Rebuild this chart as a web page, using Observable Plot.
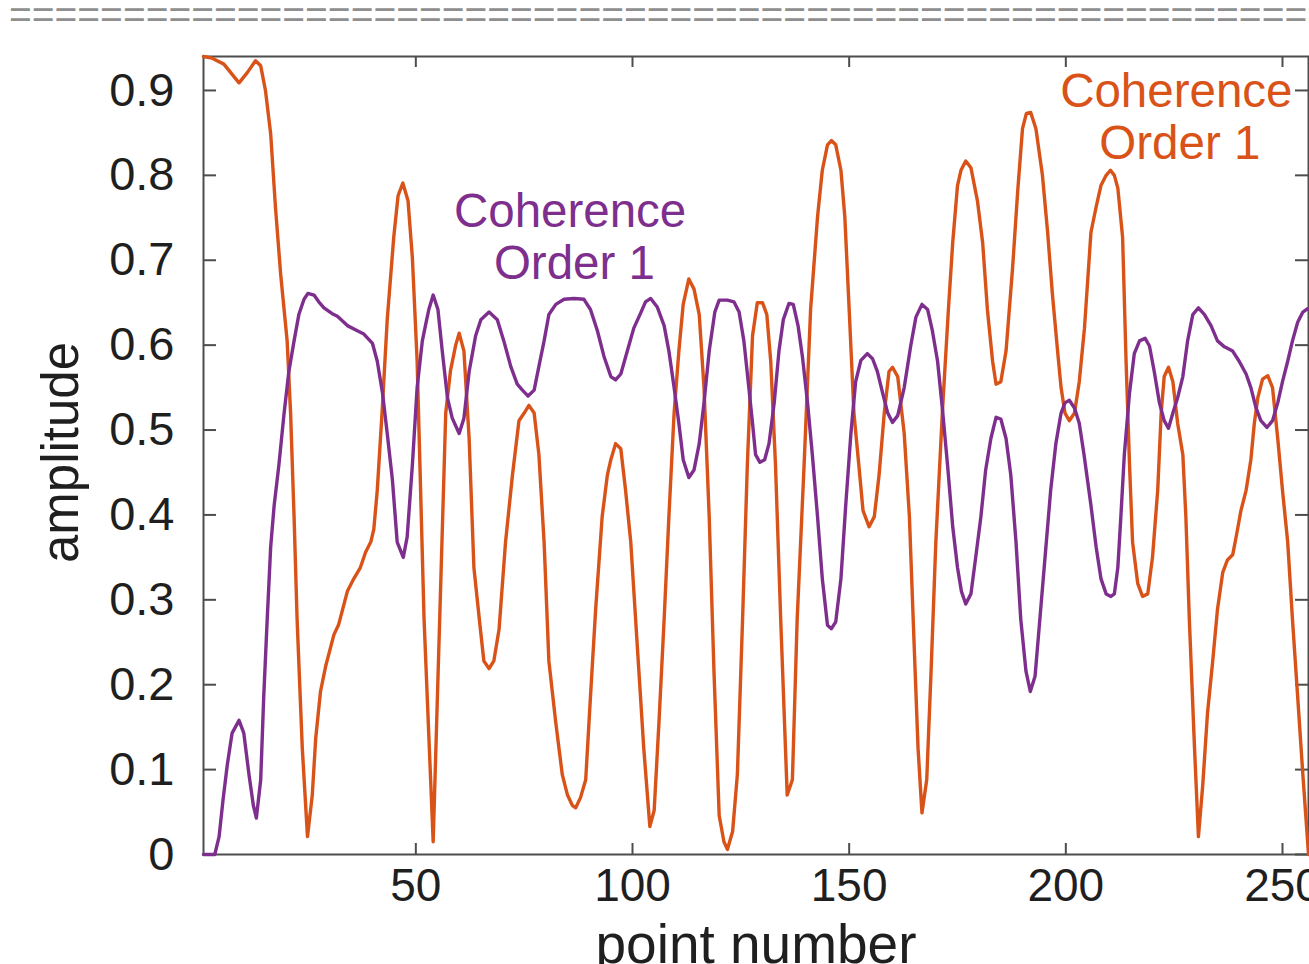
<!DOCTYPE html>
<html>
<head>
<meta charset="utf-8">
<script src="https://cdn.jsdelivr.net/npm/d3@7"></script>
<script src="https://cdn.jsdelivr.net/npm/@observablehq/plot@0.6"></script>
<style>
  html, body { margin: 0; padding: 0; background: #fff; overflow: hidden; }
  #wrap { position: relative; width: 1309px; height: 964px; }
  #rule { position: absolute; left: 9px; top: -5px; width: 1300px; overflow: hidden; white-space: nowrap;
          font-family: "Liberation Sans", Arial, sans-serif; font-size: 39px; line-height: 39px; color: #8f8f8f; }
  #chart { position: absolute; left: 0; top: 0; }
</style>
</head>
<body>
<div id="wrap"><div id="chart"></div><div id="rule"></div></div>
<script>
// ---- data ----
const orangeN = [1,3,5.7,9.2,11.1,13,14.2,15.3,16.5,17.6,18.8,20.3,21.1,21.9,22.6,23.8,25,26.1,26.9,28,29.2,31.1,32.2,34.2,35.7,37.2,38.4,39.6,40.3,41.1,42.2,43.4,44.9,45.9,47,48.2,49.2,50.3,51.9,54,56.9,58,59.2,60,61.1,62.3,63.4,64.8,65.7,66.9,68,69.2,70.7,72.3,73.8,75,76.1,77.3,78.4,79.6,80.7,82.3,83.8,85,86.1,86.9,88,89.2,90.3,91.5,93,94.2,95,96.1,97.3,98.4,99.6,101.1,102.6,104,105,106.1,107.3,108.4,109.6,110.7,111.7,113,114.2,115.4,116.5,117.7,118.8,120,121.1,121.9,123.1,124.2,125.4,126.5,127.7,128.8,130,131,131.9,133,134.2,135.7,136.9,138,139.6,141.1,142.7,143.8,145,145.9,146.9,148.1,149,150,151.1,152.3,153.2,154.6,155.8,156.9,158.1,159.2,160,161.2,162.7,163.9,165,165.9,166.8,167.9,168.9,170,171.5,172.9,173.9,175,175.8,176.9,178.1,179.6,180.8,181.9,183.1,183.9,185,186.2,187.7,188.9,190,190.9,191.9,193.1,194.6,195.8,196.9,198.1,198.9,199.8,200.8,202,203.1,204.3,205.8,207,208.1,209.3,210.3,211.2,212,213.1,213.9,214.7,215.4,216.6,217.7,218.9,220,221.2,222,222.7,223.7,224.7,225.8,227,227.7,228.5,229.7,230.6,231.6,232.7,233.9,235,236.2,237.3,238.5,239.3,240.4,241.6,242.7,243.5,244.3,245.4,246.6,247.7,248.9,250,251.2,252.3,253.5,254.7,255.8,256];
const orangeAmp = [0.94,0.938,0.931,0.909,0.921,0.935,0.929,0.900,0.849,0.763,0.684,0.605,0.52,0.398,0.277,0.125,0.021,0.07,0.137,0.192,0.222,0.259,0.271,0.31,0.325,0.338,0.356,0.368,0.383,0.429,0.52,0.63,0.727,0.776,0.791,0.77,0.703,0.581,0.277,0.015,0.52,0.57,0.6,0.614,0.593,0.49,0.338,0.27,0.228,0.219,0.228,0.265,0.368,0.447,0.511,0.52,0.529,0.52,0.471,0.368,0.228,0.155,0.094,0.07,0.058,0.055,0.067,0.088,0.186,0.289,0.398,0.447,0.465,0.484,0.478,0.429,0.368,0.246,0.125,0.033,0.052,0.155,0.277,0.398,0.52,0.593,0.648,0.678,0.666,0.636,0.55,0.398,0.216,0.046,0.015,0.006,0.027,0.094,0.277,0.459,0.611,0.65,0.65,0.636,0.581,0.459,0.277,0.07,0.088,0.277,0.459,0.642,0.751,0.806,0.836,0.841,0.836,0.806,0.751,0.642,0.52,0.455,0.405,0.386,0.398,0.447,0.52,0.569,0.574,0.563,0.496,0.398,0.246,0.125,0.049,0.088,0.216,0.368,0.52,0.642,0.721,0.788,0.806,0.817,0.809,0.77,0.721,0.642,0.581,0.554,0.557,0.593,0.69,0.782,0.855,0.873,0.874,0.855,0.8,0.733,0.66,0.593,0.55,0.52,0.511,0.52,0.557,0.62,0.733,0.763,0.788,0.8,0.806,0.8,0.785,0.727,0.581,0.459,0.368,0.319,0.304,0.307,0.35,0.429,0.52,0.563,0.574,0.557,0.508,0.471,0.398,0.277,0.125,0.021,0.082,0.167,0.228,0.289,0.332,0.347,0.353,0.374,0.405,0.429,0.465,0.508,0.538,0.56,0.564,0.55,0.49,0.429,0.368,0.277,0.186,0.094,0.015,0.0];

const purpleN = [1,3.6,4.6,5.5,6.5,7.6,9.2,10.3,11.5,12.5,13.2,14.2,14.9,15.7,16.5,17.3,18.4,19.6,20.7,21.9,23,24.2,25.1,26.5,27.6,28.8,30.7,31.9,34.2,36.5,38,40,41.1,42.3,43.4,44.6,45.7,47.1,48,49.2,50.3,51.5,52.3,53,54,55.1,56.1,57.3,58.4,60,61.1,62.3,63.8,65,66.9,68.8,70.3,71.9,73.4,74.6,75.9,77.3,78.4,79.6,80.7,82.3,84.2,86.5,88.8,90.3,91.9,93.4,95,96.1,97.3,98.8,100.3,101.9,103,104.2,105.7,107.3,108.4,109.6,110.7,111.7,113,114.2,115.4,116.5,117.7,119,120,121.9,123.4,124.6,125.7,126.7,127.7,128.4,129.4,130.5,131.5,132.7,133.8,134.8,136.1,137.1,138.2,139.2,140.4,141.5,142.7,143.8,145,145.9,146.9,148.1,149.2,150.4,151.5,152.7,154.2,155.4,156.5,157.7,158.9,160,161.2,162.7,164.2,165.4,166.8,168.1,169.2,170.4,171.5,172.7,173.9,175,175.9,176.9,178.1,179.2,180.4,181.5,182.7,183.9,185,186.2,187.3,188.5,189.6,190.8,191.8,192.9,194.2,195.4,196.5,197.7,198.9,199.8,200.8,202,203.1,204.2,205.8,207,208.1,209.3,210.4,211.2,212,212.7,213.5,214.7,215.8,217,218.3,219.3,220.4,221.6,222.7,223.7,224.7,225.8,227,228.1,229.3,230.6,232,233.5,235,236.6,238.5,240,241.6,242.7,243.9,245,246.4,247.7,248.9,250,251.2,252.3,253.5,254.7,255.8,256];
const purpleAmp = [0,0,0.021,0.064,0.106,0.143,0.158,0.143,0.094,0.058,0.043,0.088,0.186,0.277,0.362,0.411,0.459,0.52,0.569,0.605,0.636,0.654,0.661,0.659,0.651,0.644,0.637,0.634,0.623,0.617,0.613,0.602,0.581,0.544,0.496,0.441,0.368,0.35,0.374,0.459,0.55,0.605,0.625,0.642,0.659,0.642,0.593,0.538,0.514,0.496,0.514,0.569,0.611,0.63,0.639,0.63,0.605,0.575,0.554,0.547,0.54,0.547,0.575,0.605,0.636,0.648,0.654,0.655,0.654,0.642,0.617,0.587,0.563,0.559,0.566,0.593,0.62,0.638,0.651,0.655,0.645,0.623,0.593,0.55,0.508,0.465,0.444,0.453,0.484,0.532,0.593,0.639,0.653,0.653,0.651,0.639,0.605,0.557,0.508,0.471,0.462,0.465,0.484,0.532,0.593,0.63,0.649,0.648,0.623,0.587,0.532,0.471,0.398,0.325,0.27,0.266,0.274,0.325,0.411,0.496,0.557,0.582,0.59,0.584,0.569,0.544,0.52,0.509,0.517,0.55,0.599,0.633,0.648,0.642,0.617,0.581,0.526,0.459,0.386,0.338,0.31,0.295,0.307,0.35,0.398,0.453,0.49,0.515,0.513,0.49,0.447,0.368,0.277,0.216,0.192,0.21,0.289,0.362,0.429,0.484,0.52,0.532,0.535,0.526,0.508,0.471,0.411,0.362,0.325,0.307,0.304,0.307,0.338,0.398,0.471,0.544,0.59,0.605,0.608,0.599,0.569,0.532,0.511,0.502,0.52,0.538,0.563,0.605,0.636,0.644,0.636,0.623,0.605,0.598,0.593,0.581,0.566,0.55,0.526,0.511,0.503,0.511,0.532,0.557,0.581,0.605,0.627,0.639,0.643,0.643];

const xTicks = [50, 100, 150, 200, 250];
const yTicks = [0, 0.1, 0.2, 0.3, 0.4, 0.5, 0.6, 0.7, 0.8, 0.9];
const xLabel = "point number";
const yLabel = "amplitude";
const noteLines = ["Coherence", "Order 1"];

// ---- build tables ----
const orange = orangeN.map((n, i) => ({n, amp: orangeAmp[i]}));
const purple = purpleN.map((n, i) => ({n, amp: purpleAmp[i]}));

const W = 1309, H = 964;
const mL = 203, mR = 1, mT = 56, mB = 110;
const innerW = W - mL - mR, innerH = H - mT - mB;
const ORANGE = "#D95319", PURPLE = "#7E2F8E", AX = "#4d4d4d", TXT = "#1f1f1f";
const FONT = "'Liberation Sans', Arial, Helvetica, sans-serif";

const chart = Plot.plot({
  width: W, height: H,
  marginLeft: mL, marginRight: mR, marginTop: mT, marginBottom: mB,
  style: {fontFamily: FONT, background: "white", overflow: "hidden"},
  x: {domain: [1, 256]},
  y: {domain: [0, 0.94]},
  marks: [
    Plot.frame({stroke: AX, strokeWidth: 2}),
    // inward ticks (bottom/top, left/right)
    Plot.tickX(xTicks, {x: d => d, stroke: AX, strokeWidth: 2, insetTop: innerH - 11}),
    Plot.tickX(xTicks, {x: d => d, stroke: AX, strokeWidth: 2, insetBottom: innerH - 11}),
    Plot.tickY(yTicks, {y: d => d, stroke: AX, strokeWidth: 2, insetRight: innerW - 13}),
    Plot.tickY(yTicks, {y: d => d, stroke: AX, strokeWidth: 2, insetLeft: innerW - 13}),
    Plot.line(orange, {x: "n", y: "amp", stroke: ORANGE, strokeWidth: 3.4, strokeLinejoin: "round"}),
    Plot.line(purple, {x: "n", y: "amp", stroke: PURPLE, strokeWidth: 3.4, strokeLinejoin: "round"}),
    Plot.axisX({ticks: xTicks, tickSize: 0, tickPadding: 14, fontSize: 46, label: null, color: TXT}),
    Plot.axisY({ticks: yTicks, tickSize: 0, tickPadding: 29, fontSize: 47, label: null, color: TXT,
                tickFormat: d => d === 0 ? "0" : d.toFixed(1)}),
    // axis titles
    Plot.text([xLabel], {frameAnchor: "bottom", text: d => d, dy: 108, lineAnchor: "bottom", textAnchor: "middle", fontSize: 55, fill: TXT}),
    Plot.text([yLabel], {frameAnchor: "left", text: d => d, dx: -126, dy: -3, rotate: -90, lineAnchor: "bottom", textAnchor: "middle", fontSize: 51, fill: TXT}),
    // annotations
    Plot.text([noteLines[0]], {x: 85.6, y: 0.7388, text: d => d, lineAnchor: "bottom", fontSize: 47.5, fill: PURPLE}),
    Plot.text([noteLines[1]], {x: 86.6, y: 0.6776, text: d => d, lineAnchor: "bottom", fontSize: 47.5, fill: PURPLE}),
    Plot.text([noteLines[0]], {x: 225.5, y: 0.88, text: d => d, lineAnchor: "bottom", fontSize: 47.5, fill: ORANGE}),
    Plot.text([noteLines[1]], {x: 226.3, y: 0.8188, text: d => d, lineAnchor: "bottom", fontSize: 47.5, fill: ORANGE})
  ]
});
document.getElementById("chart").appendChild(chart);
document.getElementById("rule").textContent = "=".repeat(60);
</script>
</body>
</html>
